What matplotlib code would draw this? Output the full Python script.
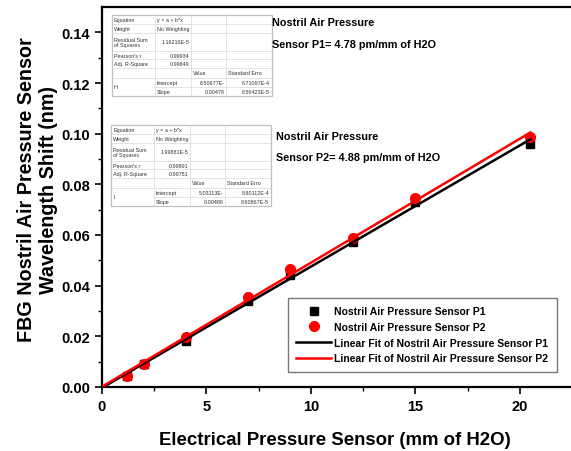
import matplotlib
matplotlib.use('Agg')
import matplotlib.pyplot as plt
import numpy as np

plt.rcParams['font.family'] = ['Liberation Sans', 'DejaVu Sans']

# data
pressure = [1.2, 2.0, 4.0, 7.0, 9.0, 12.0, 15.0, 20.5]
shift_p1 = [0.0045, 0.0090, 0.0180, 0.0338, 0.0443, 0.0573, 0.0730, 0.0959]
shift_p2 = [0.0042, 0.0092, 0.0197, 0.0356, 0.0465, 0.0588, 0.0746, 0.0985]

fit_x = [0.0, 20.5]

table_p1 = [
    ['Equation', 'y = a + b*x', '', ''],
    ['Weight', 'No Weighting', '', ''],
    ['Residual Sum\nof Squares', '1.16216E-5', '', ''],
    ["Pearson's r", '0.99934', '', ''],
    ['Adj. R-Square', '0.99849', '', ''],
    ['', '', 'Value', 'Standard Erro'],
    ['H', 'Intercept', '6.50677E-', '6.71097E-4'],
    ['', 'Slope', '0.00478', '6.56423E-5'],
]
table_p2 = [
    ['Equation', 'y = a + b*x', '', ''],
    ['Weight', 'No Weighting', '', ''],
    ['Residual Sum\nof Squares', '1.99881E-5', '', ''],
    ["Pearson's r", '0.99891', '', ''],
    ['Adj. R-Square', '0.99751', '', ''],
    ['', '', 'Value', 'Standard Erro'],
    ['I', 'Intercept', '5.03113E-', '8.80112E-4'],
    ['', 'Slope', '0.00488', '8.60867E-5'],
]

W, H = 571, 452
fig = plt.figure(figsize=(W / 100, H / 100), dpi=100)

# axes: x=0 at 102px, 20.9 px per unit, right edge runs off the picture
ax = fig.add_axes([102 / W, 1 - 388 / H, 24 * 20.9 / W, 380 / H])

c1 = np.polyfit(pressure, shift_p1, 1)
c2 = np.polyfit(pressure, shift_p2, 1)

ax.plot(pressure, shift_p1, 's', color='black', ms=6, label='Nostril Air Pressure Sensor P1', zorder=3)
ax.plot(pressure, shift_p2, 'o', color='red', ms=7, label='Nostril Air Pressure Sensor P2', zorder=4)
ax.plot(fit_x, np.polyval(c1, fit_x), '-', color='black', lw=1.8,
        label='Linear Fit of Nostril Air Pressure Sensor P1', zorder=5)
ax.plot(fit_x, np.polyval(c2, fit_x), '-', color='red', lw=1.8,
        label='Linear Fit of Nostril Air Pressure Sensor P2', zorder=6)

ax.set_xlim(0, 24)
ax.set_ylim(0, 0.15)
ax.set_xticks([0, 5, 10, 15, 20])
ax.set_xticks([2.5, 7.5, 12.5, 17.5, 22.5], minor=True)
ax.set_yticks(np.arange(0, 0.141, 0.02))
ax.set_yticks(np.arange(0.01, 0.15, 0.02), minor=True)
ax.set_yticklabels(['%.2f' % v for v in np.arange(0, 0.141, 0.02)])
ax.tick_params(which='major', direction='out', length=5, width=1.2, labelsize=10.5)
ax.tick_params(which='minor', direction='out', length=3, width=1.0)
for lab in ax.get_xticklabels() + ax.get_yticklabels():
    lab.set_fontweight('bold')
for s in ax.spines.values():
    s.set_linewidth(1.6)
ax.spines['right'].set_visible(False)

fig.text(335 / W, 1 - 441 / H, 'Electrical Pressure Sensor (mm of H2O)',
         ha='center', va='center', fontsize=13.4, fontweight='bold')
fig.text(38 / W, 1 - 190 / H, 'FBG Nostril Air Pressure Sensor\nWavelength Shift (nm)',
         ha='center', va='center', rotation=90, fontsize=14.2, fontweight='bold',
         linespacing=1.2)

leg = ax.legend(loc='lower right', bbox_to_anchor=(562 / W, 1 - 378 / H),
                bbox_transform=fig.transFigure, fontsize=7.5, frameon=True,
                fancybox=False, edgecolor='#555555', handlelength=3.4,
                borderpad=0.8, labelspacing=0.55, handletextpad=0.3)
leg.get_frame().set_linewidth(1.0)
for t in leg.get_texts():
    t.set_fontweight('bold')


def draw_table(x0, y0, rows):
    cols = [0, 42.7, 79.3, 114.3, 160]
    ys = [0, 9.3, 17.7, 36, 44.3, 53.3, 62.7, 72, 81]
    tw, th = cols[-1], ys[-1]
    t = fig.add_axes([x0 / W, 1 - (y0 + th) / H, tw / W, th / H])
    t.set_xlim(0, tw)
    t.set_ylim(th, 0)
    t.axis('off')
    t.add_patch(plt.Rectangle((0, 0), tw, th, fc='white', ec='#c0c0c0', lw=0.9,
                              clip_on=False))
    for y in ys[1:-1]:
        if y == ys[7]:
            t.plot([cols[1], tw], [y, y], color='#d8d8d8', lw=0.5)
        else:
            t.plot([0, tw], [y, y], color='#d8d8d8', lw=0.5)
    for x in cols[1:-1]:
        t.plot([x, x], [0, th], color='#d8d8d8', lw=0.5)
    for i, row in enumerate(rows):
        ym = (ys[i] + ys[i + 1]) / 2
        for j, txt in enumerate(row):
            if not txt:
                continue
            yy = ym
            if i == 6 and j == 0:
                yy = (ys[6] + ys[8]) / 2
            right = (j >= 1 and txt[0].isdigit()) and not (i == 5)
            if right:
                t.text(cols[j + 1] - 2, yy, txt, ha='right', va='center',
                       fontsize=3.9, color='#333333', linespacing=1.0)
            else:
                t.text(cols[j] + 2, yy, txt, ha='left', va='center',
                       fontsize=3.9, color='#333333', linespacing=1.0)


draw_table(112, 16, table_p1)
draw_table(111, 126, table_p2)

fig.text(272 / W, 1 - 23 / H, 'Nostril Air Pressure', fontsize=7.8, fontweight='bold', va='center')
fig.text(272 / W, 1 - 45 / H, 'Sensor P1= 4.78 pm/mm of H2O', fontsize=7.8, fontweight='bold', va='center')
fig.text(276 / W, 1 - 137 / H, 'Nostril Air Pressure', fontsize=7.8, fontweight='bold', va='center')
fig.text(276 / W, 1 - 158 / H, 'Sensor P2= 4.88 pm/mm of H2O', fontsize=7.8, fontweight='bold', va='center')

fig.savefig('out.png', dpi=100)
